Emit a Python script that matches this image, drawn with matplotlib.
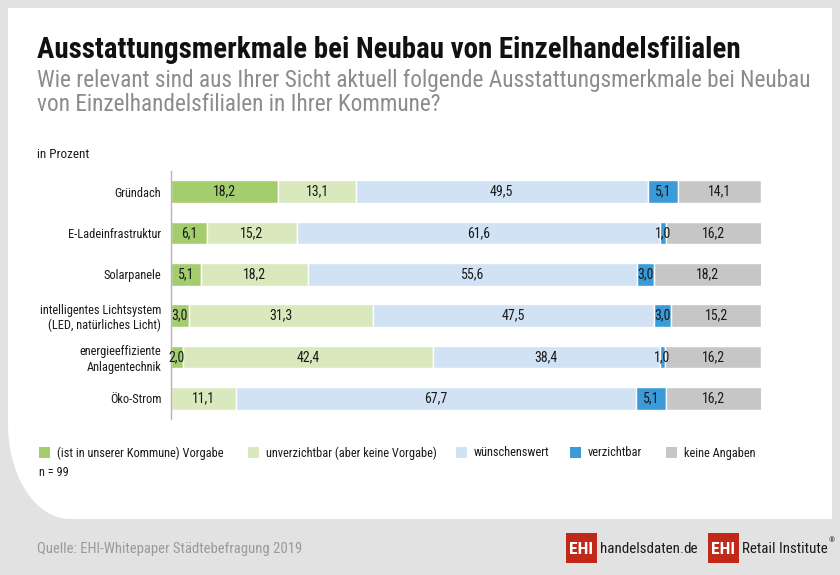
#!/usr/bin/env python3
# ehi_ausstattung.py

import matplotlib
matplotlib.use("Agg")
import matplotlib.pyplot as plt
from matplotlib import font_manager
from matplotlib.patches import Rectangle, PathPatch
from matplotlib.path import Path
import numpy as np

# Data (in Prozent)
categories = [
    "Gründach",
    "E-Ladeinfrastruktur",
    "Solarpanele",
    "intelligentes Lichtsystem\n(LED, natürliches Licht)",
    "energieeffiziente\nAnlagentechnik",
    "Öko-Strom",
]
vorgabe = [18.2, 6.1, 5.1, 3.0, 2.0, 0.0]
unverzichtbar = [13.1, 15.2, 18.2, 31.3, 42.4, 11.1]
wuenschenswert = [49.5, 61.6, 55.6, 47.5, 38.4, 67.7]
verzichtbar = [5.1, 1.0, 3.0, 3.0, 1.0, 5.1]
keine_angaben = [14.1, 16.2, 18.2, 15.2, 16.2, 16.2]

series = [vorgabe, unverzichtbar, wuenschenswert, verzichtbar, keine_angaben]
series_labels = [
    "(ist in unserer Kommune) Vorgabe",
    "unverzichtbar (aber keine Vorgabe)",
    "wünschenswert",
    "verzichtbar",
    "keine Angaben",
]
colors = ["#a4cd6e", "#d9e8bd", "#d1e2f5", "#3b9bd9", "#c6c6c6"]

W, H = 840, 575


# Look for a narrow sans, the original uses a condensed grotesk
def pick_font():
    ttf = font_manager.fontManager.ttflist
    names = {f.name for f in ttf}
    for name in ["Liberation Sans Narrow", "Roboto Condensed", "Open Sans Condensed",
                 "Noto Sans Condensed", "DejaVu Sans Condensed"]:
        if name in names:
            return name, "normal"
    for fam in ["Noto Sans", "Roboto", "Open Sans", "DejaVu Sans"]:
        for f in ttf:
            if f.name == fam and f.stretch in ("condensed", "semi-condensed",
                                               "extra-condensed"):
                return fam, f.stretch
    for fam in ["Roboto", "Lato", "Liberation Sans"]:
        if fam in names:
            return fam, "normal"
    return "DejaVu Sans", "normal"


FONT, STRETCH = pick_font()
plt.rcParams["font.family"] = [FONT, "DejaVu Sans"]
plt.rcParams["font.stretch"] = STRETCH


def fx(px):
    return px / W


def fy(py):
    return 1 - py / H


def fit(fig, txt, target_px, size):
    # scale a text so that its width matches the reference
    r = fig.canvas.get_renderer()
    txt.set_fontsize(size)
    w = txt.get_window_extent(r).width
    txt.set_fontsize(size * min(1.3, target_px / w))
    return txt


def draw_panel(fig):
    # white card with a big rounded bottom-left corner
    x0, x1, y0, y1 = 8, 832, 8, 519
    rx, ry = 62, 95
    t = np.linspace(np.pi, 1.5 * np.pi, 30)
    arc = [(x0 + rx + rx * np.cos(a), y1 - ry - ry * np.sin(a)) for a in t]
    pts = [(x0, y0), (x1, y0), (x1, y1), (x0 + rx, y1)] + arc[::-1] + [(x0, y0)]
    verts = [(fx(x), fy(y)) for x, y in pts]
    codes = [Path.MOVETO] + [Path.LINETO] * (len(verts) - 2) + [Path.CLOSEPOLY]
    fig.patches.append(PathPatch(Path(verts, codes), facecolor="white",
                                 edgecolor="none", transform=fig.transFigure,
                                 zorder=-10))


def plot(ax):
    y = np.arange(len(categories))
    left = np.zeros(len(categories))
    for vals, col in zip(series, colors):
        vals = np.array(vals)
        ax.barh(y, vals, left=left, height=0.545, color=col,
                edgecolor="white", linewidth=1)
        for i, v in enumerate(vals):
            if v > 0:
                ax.text(left[i] + v / 2, y[i], f"{v:.1f}".replace(".", ","),
                        ha="center", va="center", fontsize=10, color="#1a1a1a")
        left += vals

    ax.set_xlim(0, 100)
    ax.set_ylim(5.5, -0.5)
    ax.set_yticks(y)
    ax.set_yticklabels(categories, fontsize=9.5, color="#1a1a1a")
    ax.tick_params(axis="y", length=0, pad=7)
    ax.set_xticks([])
    for s in ["top", "right", "bottom"]:
        ax.spines[s].set_visible(False)
    ax.spines["left"].set_color("#b5b5b5")
    ax.spines["left"].set_linewidth(1)
    ax.set_facecolor("none")


def main():
    fig = plt.figure(figsize=(W / 100, H / 100), dpi=100, facecolor="#e2e2e2")
    draw_panel(fig)

    t = fig.text(fx(37), fy(58), "Ausstattungsmerkmale bei Neubau von Einzelhandelsfilialen",
                 fontweight="bold", color="#111111", va="baseline")
    fit(fig, t, 705, 20)
    t = fig.text(fx(37), fy(87), "Wie relevant sind aus Ihrer Sicht aktuell folgende "
                 "Ausstattungsmerkmale bei Neubau", color="#8c8c8c", va="baseline")
    fit(fig, t, 775, 16)
    sub_size = t.get_fontsize()
    fig.text(fx(37), fy(111), "von Einzelhandelsfilialen in Ihrer Kommune?",
             fontsize=sub_size, color="#8c8c8c", va="baseline")
    t = fig.text(fx(37), fy(158), "in Prozent", color="#1a1a1a", va="baseline")
    fit(fig, t, 52, 8)

    ax = fig.add_axes([fx(171), fy(419), 590 / W, 248 / H])
    plot(ax)
    # keep the category labels inside the card
    r = fig.canvas.get_renderer()
    widest = max(lab.get_window_extent(r).width for lab in ax.get_yticklabels())
    lab_size = 9.5 * min(1.0, 123 / widest)
    for lab in ax.get_yticklabels():
        lab.set_fontsize(lab_size)

    # legend
    sq_x = [39, 248, 456, 570, 666]
    leg_texts = []
    for xp, lab, col in zip(sq_x, series_labels, colors):
        fig.patches.append(Rectangle((fx(xp), fy(458)), 11 / W, 11 / H,
                                     facecolor=col, edgecolor="none",
                                     transform=fig.transFigure))
        leg_texts.append(fig.text(fx(xp + 18), fy(453), lab, fontsize=9,
                                  color="#1a1a1a", va="center"))
    fit(fig, leg_texts[1], 172, 9)
    for lt in leg_texts:
        lt.set_fontsize(leg_texts[1].get_fontsize())
    fig.text(fx(39), fy(473), "n = 99", fontsize=leg_texts[1].get_fontsize(),
             color="#1a1a1a", va="center")

    # footer
    t = fig.text(fx(37), fy(549), "Quelle: EHI-Whitepaper Städtebefragung 2019",
                 color="#9a9a9a", va="center")
    fit(fig, t, 264, 8.5)
    red = "#c0281a"
    for bx in [566, 708]:
        fig.patches.append(Rectangle((fx(bx), fy(563)), 31 / W, 30 / H,
                                     facecolor=red, edgecolor="none",
                                     transform=fig.transFigure))
        t = fig.text(fx(bx + 15.5), fy(549), "EHI", fontweight="bold",
                     color="white", ha="center", va="center")
        fit(fig, t, 24, 11)
    t1 = fig.text(fx(600), fy(549), "handelsdaten", color="#1a1a1a", va="center")
    fit(fig, t1, 80, 11.5)
    fs = t1.get_fontsize()
    t2 = fig.text(0, 0, ".", fontsize=fs, color=red, va="center")
    t3 = fig.text(0, 0, "de", fontsize=fs, color="#1a1a1a", va="center")
    r = fig.canvas.get_renderer()
    x_end = t1.get_window_extent(r).x1
    t2.set_position((x_end / W, fy(549)))
    t3.set_position((t2.get_window_extent(r).x1 / W, fy(549)))
    t = fig.text(fx(742), fy(549), "Retail Institute", fontsize=fs,
                 color="#1a1a1a", va="center")
    fig.text(t.get_window_extent(r).x1 / W + 1 / W, fy(540), "®", fontsize=5.5,
             color="#1a1a1a", va="center")

    fig.savefig("out.png", dpi=100, facecolor=fig.get_facecolor())


if __name__ == "__main__":
    main()
